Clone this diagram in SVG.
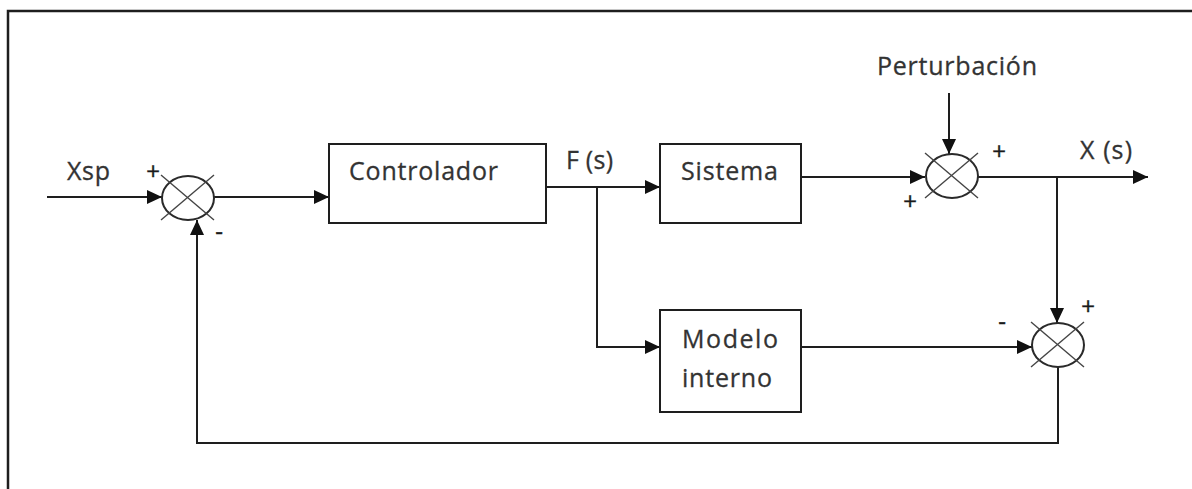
<svg xmlns="http://www.w3.org/2000/svg" width="1192" height="489" viewBox="0 0 1192 489">
<style>
  .frame{fill:none;stroke:#1e1e1e;stroke-width:2.5}
  .box{fill:#fff;stroke:#1e1e1e;stroke-width:2}
  .sum{fill:none;stroke:#2a2a2a;stroke-width:2}
  .xl{stroke:#444;stroke-width:1.4}
  .wire{fill:none;stroke:#1e1e1e;stroke-width:2}
  .lbl{font-family:"Open Sans","Noto Sans",sans-serif;font-size:25px;fill:#333;stroke:#333;stroke-width:0.3}
  .sign{font-family:"Open Sans","Noto Sans",sans-serif;font-size:24px;fill:#1a1a1a;text-anchor:middle;stroke:#1a1a1a;stroke-width:0.4}
</style>
<defs>
  <marker id="arr" markerUnits="userSpaceOnUse" markerWidth="16" markerHeight="14" refX="15" refY="7" orient="auto">
    <path d="M0,0 L15,7 L0,14 Z" fill="#111"/>
  </marker>
</defs>
<rect width="1192" height="489" fill="#fff"/>
<g id="frame">
  <path class="frame" d="M8,489 V11 H1192"/>
</g>
<g id="connectors">
  <path class="wire" d="M47,197 H162" marker-end="url(#arr)"/>
  <path class="wire" d="M213,197 H329" marker-end="url(#arr)"/>
  <path class="wire" d="M546,187 H660" marker-end="url(#arr)"/>
  <path class="wire" d="M597,187 V347 H660" marker-end="url(#arr)"/>
  <path class="wire" d="M801,177 H925" marker-end="url(#arr)"/>
  <path class="wire" d="M949,93 V154" marker-end="url(#arr)"/>
  <path class="wire" d="M978,177 H1148" marker-end="url(#arr)"/>
  <path class="wire" d="M1057,177 V323" marker-end="url(#arr)"/>
  <path class="wire" d="M801,347 H1032" marker-end="url(#arr)"/>
  <path class="wire" d="M1058,367 V443 H197 V220" marker-end="url(#arr)"/>
</g>
<g id="label-xsp"><text class="lbl" x="67" y="180" textLength="43" lengthAdjust="spacing">Xsp</text></g>
<g id="sum1">
  <ellipse class="sum" cx="188" cy="198" rx="26" ry="22"/>
  <line class="xl" x1="161" y1="175" x2="214" y2="220"/>
  <line class="xl" x1="214" y1="175" x2="161" y2="220"/>
  <text class="sign" x="153" y="180">+</text>
  <text class="sign" x="219" y="240">-</text>
</g>
<g id="controlador">
  <rect class="box" x="329" y="144" width="217" height="79"/>
  <text class="lbl" x="349" y="180" textLength="149" lengthAdjust="spacing">Controlador</text>
</g>
<g id="label-fs"><text class="lbl" x="566" y="169" textLength="47" lengthAdjust="spacing">F (s)</text></g>
<g id="sistema">
  <rect class="box" x="660" y="144" width="141" height="79"/>
  <text class="lbl" x="681" y="180" textLength="97" lengthAdjust="spacing">Sistema</text>
</g>
<g id="modelo">
  <rect class="box" x="660" y="310" width="141" height="102"/>
  <text class="lbl" x="682" y="348" textLength="96" lengthAdjust="spacing">Modelo</text>
  <text class="lbl" x="682" y="387" textLength="90" lengthAdjust="spacing">interno</text>
</g>
<g id="label-perturbacion"><text class="lbl" x="877" y="75" textLength="160" lengthAdjust="spacing">Perturbación</text></g>
<g id="sum2">
  <ellipse class="sum" cx="952" cy="176" rx="26" ry="22"/>
  <line class="xl" x1="925" y1="153" x2="978" y2="198"/>
  <line class="xl" x1="978" y1="153" x2="925" y2="198"/>
  <text class="sign" x="999" y="160">+</text>
  <text class="sign" x="910" y="210">+</text>
</g>
<g id="label-xs"><text class="lbl" x="1080" y="159" textLength="52" lengthAdjust="spacing">X (s)</text></g>
<g id="sum3">
  <ellipse class="sum" cx="1058" cy="345" rx="26" ry="22"/>
  <line class="xl" x1="1031" y1="322" x2="1084" y2="367"/>
  <line class="xl" x1="1084" y1="322" x2="1031" y2="367"/>
  <text class="sign" x="1088" y="315">+</text>
  <text class="sign" x="1002" y="330">-</text>
</g>
</svg>
